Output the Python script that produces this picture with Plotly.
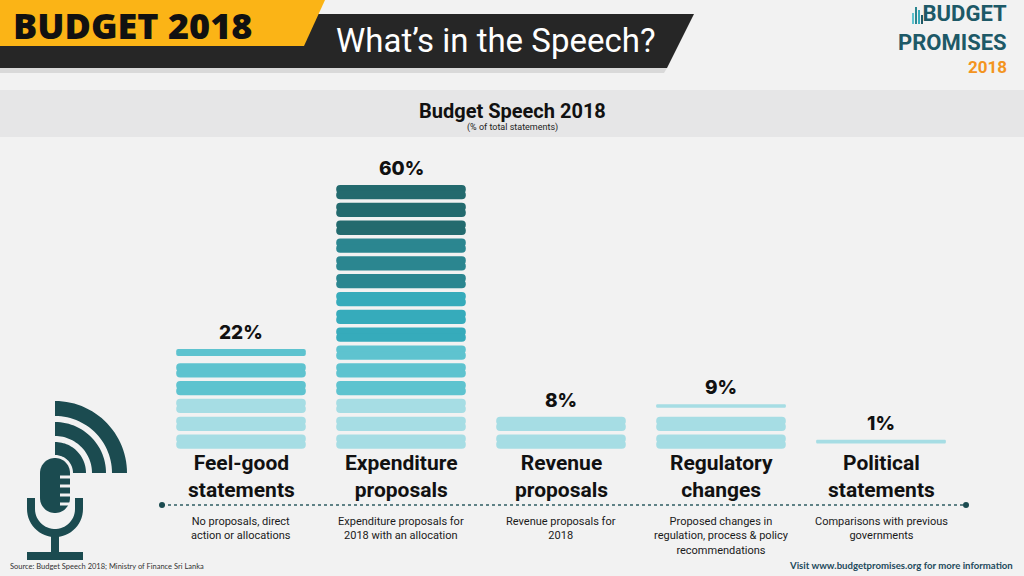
import numpy as np
import plotly.graph_objects as go

CATEGORIES = ['Feel-good statements', 'Expenditure proposals', 'Revenue proposals',
              'Regulatory changes', 'Political statements']
CATEGORY_LABELS = ['Feel-good<br>statements', 'Expenditure<br>proposals', 'Revenue<br>proposals',
                   'Regulatory<br>changes', 'Political<br>statements']
SHARES = [22, 60, 8, 9, 1]  # % of total statements
DESCRIPTIONS = ['No proposals, direct<br>action or allocations',
                'Expenditure proposals for<br>2018 with an allocation',
                'Revenue proposals for<br>2018',
                'Proposed changes in<br>regulation, process & policy<br>recommendations',
                'Comparisons with previous<br>governments']

PILL_STEP = 4      # one pill = 4% of statements
PILL_HALF = 1.6    # half height of a full pill, in % units
PILL_COLOURS = ['#a6dde4', '#5ec3cf', '#36abbb', '#2b8690', '#236a6e']

NARROW = 'Roboto'
BG = '#f2f2f2'
MIC = '#1b4b50'

# plot area in pixels (figure is 1024x576)
L, R, T, B = 161, 961, 152, 455


def px(x):
    return (x - L) / (R - L)


def py(y):
    return (B - y) / (B - T)


def path(points):
    return 'M ' + ' L '.join(f'{px(x):.5f},{py(y):.5f}' for x, y in points) + ' Z'


def arc(cx, cy, r, a0, a1, n=30):
    angles = np.linspace(np.radians(a0), np.radians(a1), n)
    return [(cx + r * np.cos(a), cy - r * np.sin(a)) for a in angles]


def pill_segments(shares):
    """split every share into 4% pills; the last one can be partial"""
    xs, mids, halves, colours, tops = [], [], [], [], []
    for cat, share in zip(CATEGORIES, shares):
        full, rest = divmod(share, PILL_STEP)
        top = 0
        for i in range(full + (1 if rest else 0)):
            half = PILL_HALF if i < full else PILL_HALF * rest / PILL_STEP
            mid = PILL_STEP * i + PILL_STEP / 2
            xs.append(cat)
            mids.append(mid)
            halves.append(half)
            colours.append(PILL_COLOURS[min(i // 3, len(PILL_COLOURS) - 1)])
            top = mid + half
        tops.append(top)
    return xs, mids, halves, colours, tops


xs, mids, halves, colours, tops = pill_segments(SHARES)
overlap = [min(0.3, h * 0.4) for h in halves]  # hides the seam between both halves

fig = go.Figure()
# each pill is two bars meeting in its middle, so both ends get rounded
fig.add_trace(go.Bar(x=xs, y=[h + o for h, o in zip(halves, overlap)],
                     base=[m - o for m, o in zip(mids, overlap)], width=0.81,
                     marker=dict(color=colours, cornerradius=7, line_width=0),
                     hoverinfo='skip'))
fig.add_trace(go.Bar(x=xs, y=[-(h + o) for h, o in zip(halves, overlap)],
                     base=[m + o for m, o in zip(mids, overlap)], width=0.81,
                     marker=dict(color=colours, cornerradius=7, line_width=0),
                     hoverinfo='skip'))

annotations = []
for cat, share, top in zip(CATEGORIES, SHARES, tops):
    annotations.append(dict(x=cat, y=top, xref='x', yref='y', yanchor='bottom', yshift=3,
                            text=f'{share}%', showarrow=False,
                            font=dict(family='Inter, Lato', size=19, color='#111', weight=800)))
for cat, label in zip(CATEGORIES, CATEGORY_LABELS):
    annotations.append(dict(x=cat, y=py(476), xref='x', yref='paper', yanchor='middle',
                            text=label, showarrow=False, align='center',
                            font=dict(family=NARROW, size=21, color='#111', weight=700)))
for cat, desc in zip(CATEGORIES, DESCRIPTIONS):
    annotations.append(dict(x=cat, y=py(513), xref='x', yref='paper', yanchor='top',
                            text=desc, showarrow=False, align='center',
                            font=dict(family=NARROW, size=11, color='#1a1a1a')))

# header and footer texts
extra = [
    dict(x=px(11), y=py(25.5), text='BUDGET 2018', xanchor='left',
         font=dict(family='Open Sans', size=36, color='#111', weight=800)),
    dict(x=px(334), y=py(41), text='What’s in the Speech?', xanchor='left',
         font=dict(family=NARROW, size=33, color='white')),
    dict(x=px(1009), y=py(28), text='BUDGET<br>PROMISES', xanchor='right', align='right',
         font=dict(family=NARROW, size=22, color='#1d5967', weight=700)),
    dict(x=px(1009), y=py(67), text='2018', xanchor='right',
         font=dict(family=NARROW, size=17, color='#f39420', weight=700)),
    dict(x=px(512), y=py(111), text='Budget Speech 2018', xanchor='center',
         font=dict(family=NARROW, size=20, color='#111', weight=700)),
    dict(x=px(512), y=py(128), text='(% of total statements)', xanchor='center',
         font=dict(family=NARROW, size=9, color='#222')),
    dict(x=px(8), y=py(566), text='Source: Budget Speech 2018; Ministry of Finance Sri Lanka',
         xanchor='left', font=dict(family='Lato', size=7.5, color='#333')),
    dict(x=px(1015), y=py(565), text='Visit www.budgetpromises.org for more information',
         xanchor='right', font=dict(family='Lato', size=9.6, color='#1d4a5c', weight=700)),
]
for a in extra:
    a.update(xref='paper', yref='paper', yanchor='middle', showarrow=False)
annotations += extra


def paper_shape(**kw):
    if 'line' not in kw:
        kw['line_width'] = 0
    return dict(xref='paper', yref='paper', **kw)


shapes = [
    # grey title band
    paper_shape(type='rect', x0=px(0), x1=px(1024), y0=py(137), y1=py(90),
                fillcolor='#e6e6e7', layer='below'),
    # header banners
    paper_shape(type='path', path=path([(0, 68), (667, 68), (664, 73), (0, 73)]),
                fillcolor='#d9d9d9'),
    paper_shape(type='path', path=path([(0, 14), (694, 14), (667, 68), (0, 68)]),
                fillcolor='#262626'),
    paper_shape(type='path', path=path([(0, 0), (325, 0), (304, 46), (0, 46)]),
                fillcolor='#fbb416'),
    # dotted divider
    paper_shape(type='line', x0=px(162), x1=px(966), y0=py(505), y1=py(505),
                line=dict(color='#2f5e63', width=1.3, dash='dot')),
]
for cx in (162, 966):
    shapes.append(paper_shape(type='circle', x0=px(cx - 3), x1=px(cx + 3), y0=py(508),
                              y1=py(502), fillcolor=MIC))

# logo bars
for i, (top, col) in enumerate(zip([15, 9, 12, 17], ['#5ec3cf', '#2b8690', '#36abbb', '#1d5967'])):
    x0 = 912 + i * 3
    shapes.append(paper_shape(type='rect', x0=px(x0), x1=px(x0 + 2), y0=py(24), y1=py(top - 2),
                              fillcolor=col))

# microphone icon
cx, cy = 55, 473
for r_out, r_in in [(72, 57), (51, 37), (31, 18)]:
    ring = arc(cx, cy, r_out, 90, 0) + arc(cx, cy, r_in, 0, 90)
    shapes.append(paper_shape(type='path', path=path(ring), fillcolor=MIC))
capsule = arc(55, 473, 15, 180, 0) + arc(55, 498, 15, 0, -180)
shapes.append(paper_shape(type='path', path=path(capsule), fillcolor=MIC))
for ny in [477, 486, 495, 504]:
    shapes.append(paper_shape(type='rect', x0=px(60), x1=px(71), y0=py(ny + 1.5),
                              y1=py(ny - 1.5), fillcolor=BG))
holder = ([(27, 498), (27, 509)] + arc(55, 509, 28, 180, 360) + [(83, 498), (75, 498)]
          + arc(55, 509, 20, 360, 180) + [(35, 498)])
shapes.append(paper_shape(type='path', path=path(holder), fillcolor=MIC))
shapes.append(paper_shape(type='rect', x0=px(51), x1=px(59), y0=py(553), y1=py(536),
                          fillcolor=MIC))
shapes.append(paper_shape(type='rect', x0=px(27), x1=px(83), y0=py(560), y1=py(552),
                          fillcolor=MIC))

fig.update_layout(
    width=1024, height=576,
    margin=dict(l=L, r=1024 - R, t=T, b=576 - B),
    paper_bgcolor=BG, plot_bgcolor=BG,
    barmode='overlay', showlegend=False,
    annotations=annotations, shapes=shapes,
)
fig.update_xaxes(type='category', categoryorder='array', categoryarray=CATEGORIES,
                 range=[-0.5, len(CATEGORIES) - 0.5], showticklabels=False,
                 showgrid=False, zeroline=False, showline=False, ticks='')
fig.update_yaxes(range=[-1, 67], visible=False)

fig.write_html('out.html', config={'displayModeBar': False},
               post_script="document.body.style.margin='0';")
